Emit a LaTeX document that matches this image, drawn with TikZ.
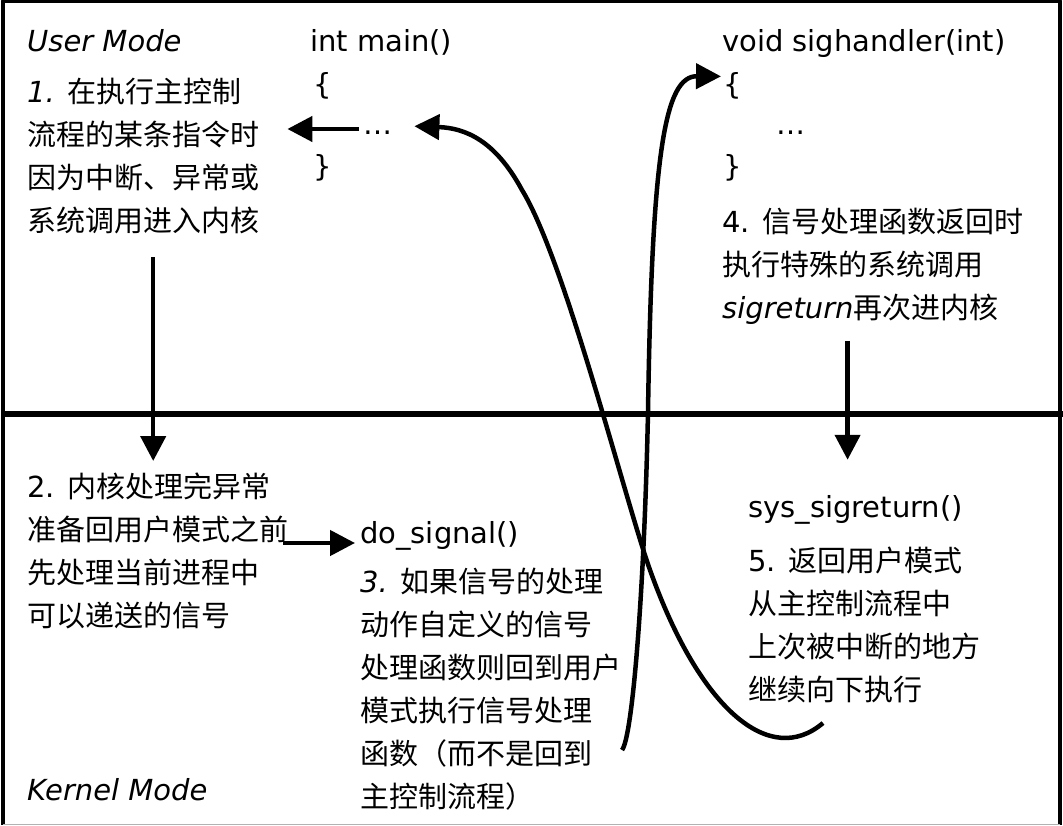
\documentclass[tikz,border=0pt]{standalone}
\usepackage{fontspec}
\setmainfont{DejaVu Sans}[ItalicFont={DejaVu Sans Oblique}]
\newfontfamily\cjk{Noto Sans CJK SC}
\newcommand{\zh}[1]{{\cjk #1}}
\usetikzlibrary{arrows.meta,calc}
\begin{document}
\begin{tikzpicture}[x=1pt,y=-1pt,line join=round,>={Triangle[length=25pt,width=25pt]},
	font=\fontsize{29}{43}\selectfont,
	code/.style={anchor=base west,inner sep=0pt},
	note/.style={anchor=north west,align=left,inner sep=0pt},
	flow/.style={line width=4.5pt}]
	\useasboundingbox (0,0) rectangle (1063,825);
	\draw[line width=4pt] (3,825)--(3,1)--(1060,1)--(1060,825);
	\draw[line width=1pt,black!30] (3,824.5)--(1060,824.5);
	\draw[line width=5.5pt] (3,414)--(1063,414);
	% user mode
	\node[code] (umode) at (27,51) {\itshape User Mode};
	\node[note] (step1) at (27,78) {{\itshape 1.} \zh{在执行主控制}\\\zh{流程的某条指令时}\\\zh{因为中断、异常或}\\\zh{系统调用进入内核}};
	\node[code] (mainhd) at (310,51) {int main()};
	\node[code] (mainlb) at (313,94) {\{};
	\node[code] (maindots) at (363,134) {…};
	\node[code] (mainrb) at (313,176) {\}};
	\node[code] (hndhd) at (722,51) {void sighandler(int)};
	\node[code] (hndlb) at (723,94) {\{};
	\node[code] (hnddots) at (776,134) {…};
	\node[code] (hndrb) at (723,176) {\}};
	\node[note] (step4) at (722,208) {4. \zh{信号处理函数返回时}\\\zh{执行特殊的系统调用}\\{\itshape sigreturn}\zh{再次进内核}};
	% kernel mode
	\node[note] (step2) at (27,473) {2. \zh{内核处理完异常}\\\zh{准备回用户模式之前}\\\zh{先处理当前进程中}\\\zh{可以递送的信号}};
	\node[code] (dosig) at (360,543) {do\_signal()};
	\node[note] (step3) at (360,568) {{\itshape 3.} \zh{如果信号的处理}\\\zh{动作自定义的信号}\\\zh{处理函数则回到用户}\\\zh{模式执行信号处理}\\\zh{函数（而不是回到}\\\zh{主控制流程）}};
	\node[code] (sysret) at (748,517) {sys\_sigreturn()};
	\node[note] (step5) at (748,547) {5. \zh{返回用户模式}\\\zh{从主控制流程中}\\\zh{上次被中断的地方}\\\zh{继续向下执行}};
	\node[code] (kmode) at (27,800) {\itshape Kernel Mode};
	% arrows
	\draw[flow,->] ($(maindots.base west)+(-4,-5)$)--($(step1.east |- maindots.base)+(28,-5)$);
	\draw[flow,->] ($(step1.south)+(10,23)$)--($(step1.south |- step2.north)+(10,-12)$);
	\draw[flow,->] ($(step2.east |- dosig.base)+(-5,0)$)--($(dosig.base west)+(-5,0)$);
	\draw[flow,->] ($(sysret.north |- step4.south)+(-8,16)$)--($(sysret.north)+(-8,-35)$);
	\coordinate (hook) at (823,723);
	\coordinate (bstart) at (622,750);
	\draw[flow,->] (hook) .. controls (770,768) and (700,710) .. (650,570)
		.. controls (625,500) and (565,260) .. (522,190)
		.. controls (495,140) and (465,128) .. ($(maindots.east)+(22,-6)$);
	\draw[flow,->] (bstart) .. controls (632,738) and (644,600) .. (648,412)
		.. controls (652,150) and (665,76) .. ($(hndlb.west)+(-2,-9)$);
\end{tikzpicture}
\end{document}
